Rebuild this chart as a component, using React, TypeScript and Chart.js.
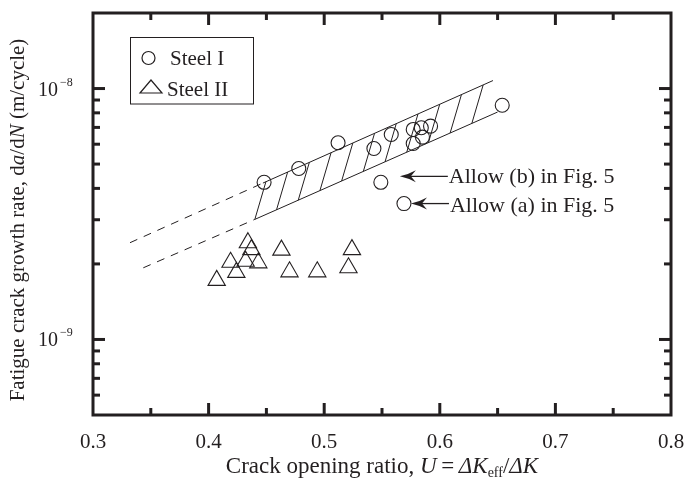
import React, { useEffect, useRef } from 'react';
import { Chart, registerables } from 'chart.js';

Chart.register(...registerables);

// ---------- data ----------
const steel1U = [0.448, 0.478, 0.512, 0.543, 0.558, 0.577, 0.584, 0.592, 0.577, 0.585, 0.654];
const steel1Rate = [4.23e-9, 4.8e-9, 6.08e-9, 5.77e-9, 6.56e-9, 6.87e-9, 6.98e-9, 7.08e-9, 6.04e-9, 6.4e-9, 8.58e-9];
const allowU = [0.549, 0.569];
const allowRate = [4.23e-9, 3.48e-9];
const allowLabels = ['Allow (b) in Fig. 5', 'Allow (a) in Fig. 5'];

const steel2U = [0.407, 0.419, 0.424, 0.432, 0.434, 0.437, 0.443, 0.463, 0.470, 0.494, 0.521, 0.524];
const steel2Rate = [1.72e-9, 2.03e-9, 1.85e-9, 2.05e-9, 2.43e-9, 2.28e-9, 2.02e-9, 2.27e-9, 1.86e-9, 1.86e-9, 1.93e-9, 2.28e-9];

const upperDashU = [0.332, 0.447];
const upperDashRate = [2.43e-9, 4.2e-9];
const upperSolidU = [0.447, 0.646];
const upperSolidRate = [4.2e-9, 1.076e-8];
const lowerDashU = [0.3435, 0.44];
const lowerDashRate = [1.93e-9, 3.01e-9];
const lowerSolidU = [0.44, 0.65];
const lowerSolidRate = [3.01e-9, 8.06e-9];

const xMajorTicks = [0.3, 0.4, 0.5, 0.6, 0.7, 0.8];
const xTickLabels = ['0.3', '0.4', '0.5', '0.6', '0.7', '0.8'];
const xMinorTicks = [0.35, 0.45, 0.55, 0.65, 0.75];
const yMajorTicks = [1e-9, 1e-8];
const yTickBase = '10';
const yTickExps = ['\u22129', '\u22128'];
const yMinorTicks = [6e-10, 7e-10, 8e-10, 9e-10, 2e-9, 3e-9, 4e-9, 5e-9, 6e-9, 7e-9, 8e-9, 9e-9];
const legendLabels = ['Steel I', 'Steel II'];

const X_MIN = 0.3, X_MAX = 0.8, Y_MIN = 5e-10, Y_MAX = 2e-8;

// ---------- style ----------
const INK = '#231f20';
const FAM = '"Liberation Serif", "Times New Roman", serif';
const font = (size: number, italic = false) => `${italic ? 'italic ' : ''}${size}px ${FAM}`;

type Part = { t: string; f: string; dy?: number };

function drawRich(ctx: CanvasRenderingContext2D, parts: Part[], x: number, y: number, align: 'left' | 'center') {
  let total = 0;
  for (const p of parts) { ctx.font = p.f; total += ctx.measureText(p.t).width; }
  let cx = align === 'center' ? x - total / 2 : x;
  ctx.textAlign = 'left';
  ctx.textBaseline = 'alphabetic';
  for (const p of parts) {
    ctx.font = p.f;
    ctx.fillText(p.t, cx, y + (p.dy || 0));
    cx += ctx.measureText(p.t).width;
  }
}

function drawArrow(ctx: CanvasRenderingContext2D, tipX: number, tipY: number, tailX: number) {
  ctx.beginPath();
  ctx.moveTo(tipX + 10, tipY);
  ctx.lineTo(tailX, tipY);
  ctx.lineWidth = 1.3;
  ctx.stroke();
  ctx.beginPath();
  ctx.moveTo(tipX, tipY);
  ctx.quadraticCurveTo(tipX + 9, tipY - 2, tipX + 16, tipY - 6);
  ctx.lineTo(tipX + 11, tipY);
  ctx.lineTo(tipX + 16, tipY + 6);
  ctx.quadraticCurveTo(tipX + 9, tipY + 2, tipX, tipY);
  ctx.closePath();
  ctx.fill();
}

const hatchPlugin = {
  id: 'hatch',
  afterDatasetsDraw(chart: any) {
    const { ctx, scales } = chart;
    const x = scales.x, y = scales.y;
    const lx0 = x.getPixelForValue(lowerSolidU[0]), ly0 = y.getPixelForValue(lowerSolidRate[0]);
    const lx1 = x.getPixelForValue(lowerSolidU[1]), ly1 = y.getPixelForValue(lowerSolidRate[1]);
    const ux0 = x.getPixelForValue(upperSolidU[0]), uy0 = y.getPixelForValue(upperSolidRate[0]);
    const ux1 = x.getPixelForValue(upperSolidU[1]), uy1 = y.getPixelForValue(upperSolidRate[1]);
    const mL = (ly1 - ly0) / (lx1 - lx0);
    const mU = (uy1 - uy0) / (ux1 - ux0);
    const s = 3.4, step = 21.7;
    ctx.save();
    ctx.strokeStyle = INK;
    ctx.lineWidth = 1;
    for (let xs = lx0; xs <= lx1; xs += step) {
      const yl = ly0 + mL * (xs - lx0);
      const yu = uy0 + mU * (xs - ux0);
      const t = (yl - yu) / (s + mU);
      const xe = xs + t;
      if (xe > ux1 + 1) break;
      ctx.beginPath();
      ctx.moveTo(xs, yl);
      ctx.lineTo(xe, yl - s * t);
      ctx.stroke();
    }
    ctx.restore();
  },
};

const framePlugin = {
  id: 'frame',
  afterDraw(chart: any) {
    const { ctx, chartArea, scales } = chart;
    const x = scales.x, y = scales.y;
    const { left, right, top, bottom } = chartArea;
    ctx.save();
    ctx.strokeStyle = INK;
    ctx.fillStyle = INK;

    // frame
    ctx.lineWidth = 3;
    ctx.strokeRect(left, top, right - left, bottom - top);

    // ticks (inward)
    const MAJ = 12, MIN = 7;
    ctx.lineWidth = 3;
    ctx.lineCap = 'butt';
    const line = (x0: number, y0: number, x1: number, y1: number) => {
      ctx.beginPath(); ctx.moveTo(x0, y0); ctx.lineTo(x1, y1); ctx.stroke();
    };
    xMajorTicks.forEach((v) => {
      if (v <= X_MIN || v >= X_MAX) return;
      const px = x.getPixelForValue(v);
      line(px, bottom, px, bottom - MAJ);
      line(px, top, px, top + MAJ);
    });
    xMinorTicks.forEach((v) => {
      const px = x.getPixelForValue(v);
      line(px, bottom, px, bottom - MIN);
      line(px, top, px, top + MIN);
    });
    yMajorTicks.forEach((v) => {
      const py = y.getPixelForValue(v);
      line(left, py, left + MAJ, py);
      line(right, py, right - MAJ, py);
    });
    yMinorTicks.forEach((v) => {
      const py = y.getPixelForValue(v);
      line(left, py, left + MIN, py);
      line(right, py, right - MIN, py);
    });

    // x tick labels
    ctx.font = font(21);
    ctx.textAlign = 'center';
    ctx.textBaseline = 'alphabetic';
    xMajorTicks.forEach((v, i) => {
      ctx.fillText(xTickLabels[i], x.getPixelForValue(v), bottom + 33);
    });

    // y tick labels
    yMajorTicks.forEach((v, i) => {
      const py = y.getPixelForValue(v);
      ctx.textAlign = 'right';
      ctx.textBaseline = 'alphabetic';
      ctx.font = font(20);
      ctx.fillText(yTickBase, left - 35, py + 7);
      ctx.textAlign = 'left';
      ctx.font = font(12);
      ctx.fillText(yTickExps[i], left - 33, py - 3);
    });

    // x title
    const xt: Part[] = [
      { t: 'Crack opening ratio, ', f: font(23) },
      { t: 'U', f: font(23, true) },
      { t: '\u2009=\u2009', f: font(23) },
      { t: '\u0394K', f: font(23, true) },
      { t: 'eff', f: font(14), dy: 4 },
      { t: '/', f: font(23) },
      { t: '\u0394K', f: font(23, true) },
    ];
    drawRich(ctx, xt, 382, bottom + 58, 'center');

    // y title
    ctx.save();
    ctx.translate(24, 220);
    ctx.rotate(-Math.PI / 2);
    const yt: Part[] = [
      { t: 'Fatigue crack growth rate, d', f: font(21) },
      { t: 'a', f: font(21, true) },
      { t: '/d', f: font(21) },
      { t: 'N', f: font(21, true) },
      { t: ' (m/cycle)', f: font(21) },
    ];
    drawRich(ctx, yt, 0, 0, 'center');
    ctx.restore();

    // legend
    ctx.lineWidth = 1;
    ctx.strokeRect(130.5, 37.5, 123, 66.5);
    ctx.lineWidth = 1.2;
    ctx.beginPath();
    ctx.arc(148.5, 58, 6.5, 0, Math.PI * 2);
    ctx.stroke();
    ctx.beginPath();
    ctx.moveTo(151, 80);
    ctx.lineTo(140, 93);
    ctx.lineTo(162, 93);
    ctx.closePath();
    ctx.stroke();
    drawRich(ctx, [{ t: legendLabels[0], f: font(21) }], 170, 65, 'left');
    drawRich(ctx, [{ t: legendLabels[1], f: font(21) }], 167, 96, 'left');

    // annotations
    const bx = x.getPixelForValue(allowU[0]), by = y.getPixelForValue(allowRate[0]);
    drawArrow(ctx, bx + 19, by - 6, bx + 67);
    drawRich(ctx, [{ t: allowLabels[0], f: font(22) }], bx + 68, by + 1, 'left');
    const ax = x.getPixelForValue(allowU[1]), ay = y.getPixelForValue(allowRate[1]);
    drawArrow(ctx, ax + 7, ay, ax + 45);
    drawRich(ctx, [{ t: allowLabels[1], f: font(22) }], ax + 46, ay + 8, 'left');

    ctx.restore();
  },
};

const pts = (xs: number[], ys: number[]) => xs.map((v, i) => ({ x: v, y: ys[i] }));

export default function App() {
  const ref = useRef<HTMLCanvasElement | null>(null);
  useEffect(() => {
    if (!ref.current) return;
    const lineDs = (xs: number[], ys: number[], dash: number[]) => ({
      type: 'line' as const,
      data: pts(xs, ys),
      showLine: true,
      borderColor: INK,
      borderWidth: 1,
      borderDash: dash,
      pointRadius: 0,
      fill: false,
    });
    const chart = new Chart(ref.current, {
      type: 'scatter',
      data: {
        datasets: [
          lineDs(upperDashU, upperDashRate, [8, 7]),
          lineDs(upperSolidU, upperSolidRate, []),
          lineDs(lowerDashU, lowerDashRate, [8, 7]),
          lineDs(lowerSolidU, lowerSolidRate, []),
          {
            label: 'Steel I',
            data: pts(steel1U.concat(allowU), steel1Rate.concat(allowRate)),
            pointStyle: 'circle',
            pointRadius: 7,
            borderColor: INK,
            borderWidth: 1.1,
            backgroundColor: 'rgba(0,0,0,0)',
          },
          {
            label: 'Steel II',
            data: pts(steel2U, steel2Rate),
            pointStyle: 'triangle',
            pointRadius: 10,
            borderColor: INK,
            borderWidth: 1.1,
            backgroundColor: 'rgba(0,0,0,0)',
          },
        ],
      } as any,
      options: {
        animation: false,
        responsive: false,
        devicePixelRatio: 1,
        layout: { padding: { left: 93, right: 13, top: 13, bottom: 67 } },
        scales: {
          x: { type: 'linear', min: X_MIN, max: X_MAX, display: false },
          y: { type: 'logarithmic', min: Y_MIN, max: Y_MAX, display: false },
        },
        plugins: {
          legend: { display: false },
          tooltip: { enabled: false },
        },
      } as any,
      plugins: [hatchPlugin, framePlugin],
    });
    return () => chart.destroy();
  }, []);
  return (
    <div style={{ position: 'fixed', left: 0, top: 0, width: 684, height: 482, background: '#fff' }}>
      <canvas ref={ref} width={684} height={482} style={{ width: 684, height: 482, display: 'block' }} />
    </div>
  );
}
